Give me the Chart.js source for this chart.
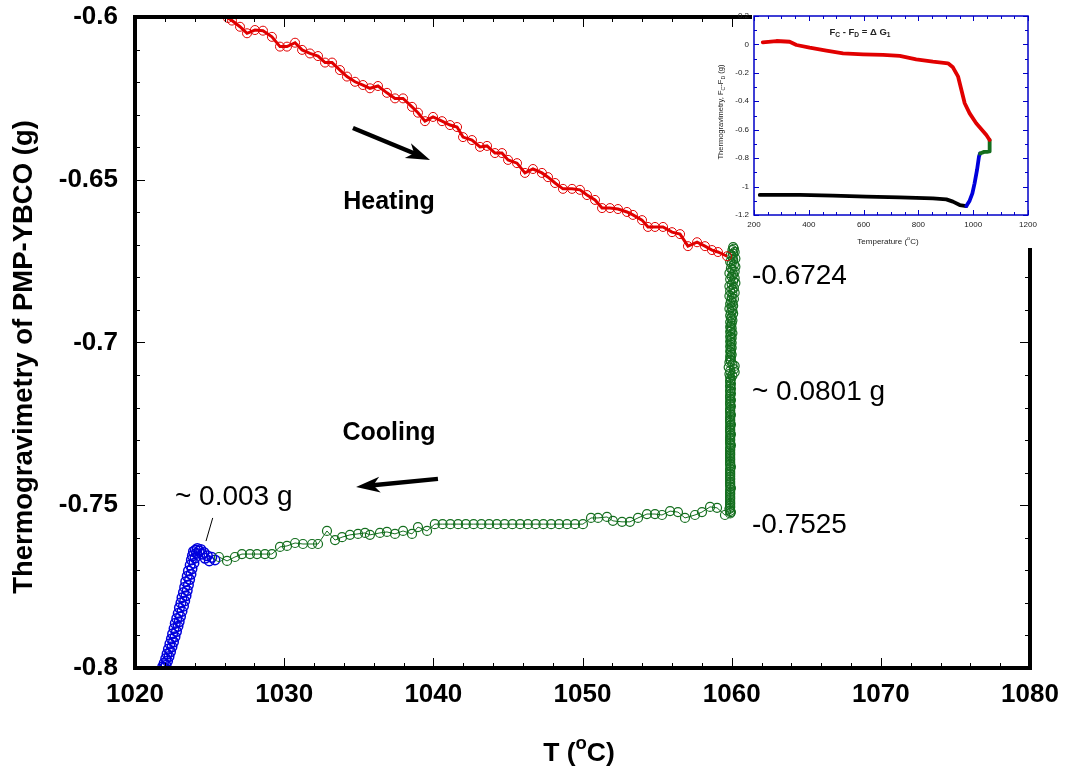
<!DOCTYPE html>
<html>
<head>
<meta charset="utf-8">
<script src="https://cdn.jsdelivr.net/npm/chart.js@4.4.1/dist/chart.umd.min.js"></script>
<style>
  html, body { margin: 0; padding: 0; background: #fff; overflow: hidden; }
  #wrap { position: relative; width: 1067px; height: 774px; }
  #mainChart { position: absolute; left: 0; top: 0; }
  #insetChart { position: absolute; left: 700px; top: 11px; }
</style>
</head>
<body>
<div id="wrap">
  <canvas id="mainChart" width="1067" height="774"></canvas>
  <canvas id="insetChart" width="345" height="237"></canvas>
</div>
<script>
// ---- main plot data (T in degC, weight in g) ----
const heatT = [1026.23, 1026.50, 1027.04, 1027.51, 1028.04, 1028.58, 1029.18, 1029.72, 1030.19, 1030.73,
  1031.20, 1031.73, 1032.27, 1032.74, 1033.21, 1033.74, 1034.21, 1034.75, 1035.28, 1035.75,
  1036.29, 1036.89, 1037.43, 1037.97, 1038.57, 1038.97, 1039.44, 1039.98, 1040.58, 1041.12,
  1041.59, 1041.99, 1042.59, 1043.13, 1043.60, 1044.13, 1044.60, 1045.01, 1045.61, 1046.14,
  1046.68, 1047.28, 1047.69, 1048.16, 1048.69, 1049.30, 1049.83, 1050.30, 1050.84, 1051.31,
  1051.84, 1052.38, 1052.98, 1053.38, 1053.99, 1054.39, 1054.86, 1055.40, 1056.00, 1056.54,
  1057.07, 1057.68, 1058.21, 1058.68, 1059.08, 1059.69];
const heatW = [-0.6003, -0.6011, -0.6030, -0.6050, -0.6040, -0.6042, -0.6061, -0.6091, -0.6091, -0.6079,
  -0.6101, -0.6112, -0.6120, -0.6140, -0.6140, -0.6163, -0.6183, -0.6199, -0.6209, -0.6219,
  -0.6212, -0.6233, -0.6250, -0.6250, -0.6276, -0.6294, -0.6320, -0.6307, -0.6320, -0.6332,
  -0.6338, -0.6369, -0.6378, -0.6399, -0.6396, -0.6418, -0.6418, -0.6439, -0.6449, -0.6479,
  -0.6467, -0.6479, -0.6492, -0.6510, -0.6528, -0.6528, -0.6531, -0.6547, -0.6562, -0.6587,
  -0.6587, -0.6590, -0.6599, -0.6608, -0.6624, -0.6645, -0.6645, -0.6645, -0.6661, -0.6667,
  -0.6704, -0.6692, -0.6704, -0.6716, -0.6722, -0.6735];

// green part 1: isothermal hold at 1060 (weight drops ~0.08 g)
const holdT = [1060.10, 1060.15, 1060.05, 1060.20, 1060.10, 1059.95, 1060.05, 1060.25, 1060.10, 1059.90,
  1060.00, 1060.15, 1060.25, 1059.95, 1060.05, 1060.20, 1059.85, 1060.10, 1060.00, 1060.20,
  1059.90, 1060.10, 1060.25, 1060.00, 1059.85, 1060.15, 1060.05, 1059.90, 1060.20, 1060.05,
  1059.85, 1060.00, 1060.15, 1059.95, 1060.05, 1059.90, 1060.10, 1060.00, 1059.85, 1060.05,
  1059.95, 1060.10, 1059.90, 1060.00, 1059.95, 1060.05, 1059.90, 1060.00, 1059.95, 1059.90,
  1060.00, 1059.95, 1059.90, 1060.05, 1059.95, 1059.90, 1060.00, 1059.95, 1059.90, 1060.00,
  1059.95, 1059.90, 1060.00, 1059.95, 1059.90, 1059.95, 1060.00, 1059.90, 1059.95, 1059.90,
  1059.95, 1059.85, 1060.05, 1060.20, 1059.80, 1060.15, 1059.90, 1060.20, 1059.85, 1060.05,
  1059.90, 1059.95, 1059.90, 1059.90, 1059.95, 1059.90, 1059.90, 1059.95, 1059.90, 1059.90,
  1059.95, 1059.90, 1059.90, 1059.90, 1059.95, 1059.90, 1059.90, 1059.90, 1059.95, 1059.90,
  1059.90, 1059.90, 1059.90, 1059.95, 1059.90, 1059.90, 1059.90, 1059.90, 1059.90, 1059.95,
  1059.90, 1059.90, 1059.90, 1059.90, 1059.90, 1059.95, 1059.90, 1059.90, 1059.90, 1059.90,
  1059.90, 1059.90, 1059.95, 1059.90, 1059.90, 1059.90, 1059.90, 1059.90, 1059.90, 1059.90,
  1059.90, 1059.90, 1059.90, 1059.90, 1059.90, 1059.95, 1059.90, 1059.90, 1059.90, 1059.90,
  1059.90, 1059.90, 1059.90, 1059.90, 1059.90, 1059.90, 1059.90, 1059.90, 1059.95, 1059.90,
  1059.90, 1059.90, 1059.90, 1059.90, 1059.90, 1059.90, 1059.90, 1059.90, 1059.90, 1059.90,
  1059.90, 1059.85, 1059.90, 1059.95, 1059.90];
const holdW = [-0.6707, -0.6712, -0.6716, -0.6722, -0.6727, -0.6731, -0.6737, -0.6742, -0.6746, -0.6752,
  -0.6757, -0.6761, -0.6767, -0.6772, -0.6776, -0.6782, -0.6787, -0.6791, -0.6797, -0.6802,
  -0.6806, -0.6812, -0.6817, -0.6821, -0.6827, -0.6832, -0.6836, -0.6842, -0.6847, -0.6851,
  -0.6857, -0.6862, -0.6866, -0.6872, -0.6877, -0.6881, -0.6887, -0.6892, -0.6896, -0.6902,
  -0.6907, -0.6911, -0.6917, -0.6922, -0.6926, -0.6932, -0.6937, -0.6941, -0.6947, -0.6952,
  -0.6956, -0.6962, -0.6967, -0.6971, -0.6977, -0.6982, -0.6986, -0.6992, -0.6997, -0.7001,
  -0.7007, -0.7012, -0.7016, -0.7022, -0.7027, -0.7031, -0.7037, -0.7042, -0.7046, -0.7052,
  -0.7057, -0.7061, -0.7067, -0.7072, -0.7076, -0.7082, -0.7087, -0.7091, -0.7097, -0.7102,
  -0.7106, -0.7112, -0.7117, -0.7121, -0.7127, -0.7132, -0.7136, -0.7142, -0.7147, -0.7151,
  -0.7157, -0.7162, -0.7166, -0.7172, -0.7177, -0.7181, -0.7187, -0.7192, -0.7196, -0.7202,
  -0.7207, -0.7211, -0.7217, -0.7222, -0.7226, -0.7232, -0.7237, -0.7241, -0.7247, -0.7252,
  -0.7256, -0.7262, -0.7267, -0.7271, -0.7277, -0.7282, -0.7286, -0.7292, -0.7297, -0.7301,
  -0.7307, -0.7312, -0.7316, -0.7322, -0.7327, -0.7331, -0.7337, -0.7342, -0.7346, -0.7352,
  -0.7357, -0.7361, -0.7367, -0.7372, -0.7376, -0.7382, -0.7387, -0.7391, -0.7397, -0.7402,
  -0.7406, -0.7412, -0.7417, -0.7421, -0.7427, -0.7432, -0.7436, -0.7442, -0.7447, -0.7451,
  -0.7457, -0.7462, -0.7466, -0.7472, -0.7477, -0.7481, -0.7487, -0.7492, -0.7496, -0.7502,
  -0.7507, -0.7511, -0.7517, -0.7521, -0.7525];

// green part 2: cooling from 1060 down to ~1025
const coolT = [1059.55, 1059.02, 1058.55, 1058.01, 1057.54, 1056.87, 1056.40, 1055.87, 1055.33, 1054.86,
  1054.32, 1053.72, 1053.18, 1052.65, 1052.04, 1051.64, 1051.04, 1050.57, 1050.03, 1049.50,
  1048.96, 1048.43, 1047.90, 1047.38, 1046.86, 1046.34, 1045.82, 1045.30, 1044.78, 1044.26,
  1043.74, 1043.22, 1042.70, 1042.18, 1041.66, 1041.14, 1040.62, 1040.10, 1039.58, 1038.97,
  1038.57, 1037.97, 1037.43, 1036.89, 1036.42, 1035.75, 1035.42, 1034.95, 1034.41, 1033.88,
  1033.41, 1032.87, 1032.27, 1031.87, 1031.26, 1030.73, 1030.19, 1029.72, 1029.18, 1028.71,
  1028.18, 1027.71, 1027.17, 1026.70, 1026.17, 1025.63];
const coolW = [-0.7530, -0.7508, -0.7505, -0.7521, -0.7530, -0.7539, -0.7521, -0.7518, -0.7530, -0.7527,
  -0.7527, -0.7539, -0.7551, -0.7551, -0.7548, -0.7536, -0.7539, -0.7539, -0.7558, -0.7558,
  -0.7558, -0.7558, -0.7558, -0.7558, -0.7558, -0.7558, -0.7558, -0.7558, -0.7558, -0.7558,
  -0.7558, -0.7558, -0.7558, -0.7558, -0.7558, -0.7558, -0.7558, -0.7558, -0.7579, -0.7567,
  -0.7588, -0.7579, -0.7588, -0.7582, -0.7585, -0.7591, -0.7585, -0.7588, -0.7591, -0.7598,
  -0.7607, -0.7579, -0.7619, -0.7619, -0.7619, -0.7616, -0.7625, -0.7628, -0.7650, -0.7650,
  -0.7650, -0.7650, -0.7650, -0.7659, -0.7671, -0.7659];

// blue: last part of the cooling run
const blueT = [1025.36, 1025.15, 1024.98, 1024.85, 1024.70, 1024.62, 1024.50, 1024.41, 1024.30, 1024.18,
  1024.05, 1024.12, 1023.92, 1023.85, 1024.02, 1023.78, 1023.95, 1023.70, 1023.82, 1023.58,
  1023.75, 1023.50, 1023.66, 1023.40, 1023.58, 1023.33, 1023.50, 1023.25, 1023.42, 1023.15,
  1023.33, 1023.08, 1023.25, 1022.98, 1023.15, 1022.90, 1023.05, 1022.80, 1022.96, 1022.70,
  1022.88, 1022.62, 1022.78, 1022.52, 1022.68, 1022.44, 1022.58, 1022.34, 1022.48, 1022.24,
  1022.38, 1022.15, 1022.28, 1022.06, 1022.18, 1021.96, 1022.08, 1021.86, 1021.95];
const blueW = [-0.7668, -0.7660, -0.7671, -0.7655, -0.7663, -0.7645, -0.7650, -0.7636, -0.7641, -0.7633,
  -0.7638, -0.7648, -0.7642, -0.7655, -0.7662, -0.7668, -0.7678, -0.7684, -0.7695, -0.7702,
  -0.7712, -0.7718, -0.7728, -0.7735, -0.7745, -0.7752, -0.7762, -0.7768, -0.7778, -0.7784,
  -0.7794, -0.7800, -0.7810, -0.7815, -0.7826, -0.7832, -0.7842, -0.7848, -0.7858, -0.7863,
  -0.7872, -0.7879, -0.7888, -0.7895, -0.7904, -0.7911, -0.7920, -0.7926, -0.7935, -0.7942,
  -0.7950, -0.7957, -0.7965, -0.7971, -0.7979, -0.7985, -0.7992, -0.7996, -0.8000];

const xTicks = [1020, 1030, 1040, 1050, 1060, 1070, 1080];
const yTicks = [-0.8, -0.75, -0.7, -0.65, -0.6];

// ---- inset data (whole run) ----
const insetRedT = [232, 282, 330, 355, 403, 464, 525, 598, 671, 732, 792, 853, 908, 926, 945, 957, 969, 987, 1011, 1048, 1060];
const insetRedW = [0.015, 0.024, 0.019, -0.004, -0.023, -0.044, -0.063, -0.070, -0.074, -0.081, -0.105, -0.121, -0.133, -0.161, -0.227, -0.321, -0.414, -0.485, -0.555, -0.637, -0.672];
const insetGreenT = [1060, 1060, 1050, 1040, 1025];
const insetGreenW = [-0.672, -0.7525, -0.756, -0.756, -0.767];
const insetBlueT = [1025, 1021, 1014, 1005, 997, 987, 975];
const insetBlueW = [-0.767, -0.790, -0.883, -0.977, -1.048, -1.099, -1.137];
const insetBlackT = [975, 951, 926, 902, 853, 732, 610, 488, 367, 221];
const insetBlackW = [-1.137, -1.130, -1.106, -1.090, -1.083, -1.076, -1.071, -1.064, -1.059, -1.059];

const insetXTicks = [200, 400, 600, 800, 1000, 1200];
const insetYTicks = [-1.2, -1, -0.8, -0.6, -0.4, -0.2, 0, 0.2];

const FONT = '"Liberation Sans", Arial, Helvetica, sans-serif';

function pts(xs, ys) {
  const n = Math.min(xs.length, ys.length);
  const out = [];
  for (let i = 0; i < n; i++) out.push({x: xs[i], y: ys[i]});
  return out;
}

// text with sub/superscript pieces: [text, 'sub'|'sup'|undefined]
function richText(ctx, parts, x, y, size, weight, align) {
  const f = s => weight + ' ' + s + 'px ' + FONT;
  let w = 0;
  parts.forEach(p => { ctx.font = f(p[1] ? size * 0.7 : size); w += ctx.measureText(p[0]).width; });
  let cx = align === 'center' ? x - w / 2 : x;
  ctx.textAlign = 'left';
  ctx.textBaseline = 'alphabetic';
  parts.forEach(p => {
    const s = p[1] ? size * 0.7 : size;
    ctx.font = f(s);
    const dy = p[1] === 'sub' ? size * 0.25 : (p[1] === 'sup' ? -size * 0.45 : 0);
    ctx.fillText(p[0], cx, y + dy);
    cx += ctx.measureText(p[0]).width;
  });
}

// box around plot + inward ticks on all 4 sides
function drawFrame(chart, o) {
  const {ctx, chartArea: a, scales: {x, y}} = chart;
  ctx.save();
  ctx.strokeStyle = o.color;
  ctx.lineWidth = o.tickWidth;
  ctx.beginPath();
  for (let v = x.min; v <= x.max + 1e-9; v += o.xMinor) {
    const px = Math.round(x.getPixelForValue(v)) + 0.5;
    const major = Math.abs((v - x.min) / o.xMajor - Math.round((v - x.min) / o.xMajor)) < 1e-6;
    const len = major ? o.major : o.minor;
    ctx.moveTo(px, a.bottom); ctx.lineTo(px, a.bottom - len);
    ctx.moveTo(px, a.top); ctx.lineTo(px, a.top + len);
  }
  for (let v = y.min; v <= y.max + 1e-9; v += o.yMinor) {
    const py = Math.round(y.getPixelForValue(v)) + 0.5;
    const major = Math.abs((v - y.min) / o.yMajor - Math.round((v - y.min) / o.yMajor)) < 1e-6;
    const len = major ? o.major : o.minor;
    ctx.moveTo(a.left, py); ctx.lineTo(a.left + len, py);
    ctx.moveTo(a.right, py); ctx.lineTo(a.right - len, py);
  }
  ctx.stroke();
  ctx.lineWidth = o.lineWidth;
  ctx.strokeRect(a.left, a.top, a.right - a.left, a.bottom - a.top);
  ctx.restore();
}

function arrow(ctx, x1, y1, x2, y2) {
  const ang = Math.atan2(y2 - y1, x2 - x1);
  const L = 24, W = 8;
  ctx.lineWidth = 4.5;
  ctx.lineCap = 'butt';
  ctx.beginPath();
  ctx.moveTo(x1, y1);
  ctx.lineTo(x2 - L * 0.7 * Math.cos(ang), y2 - L * 0.7 * Math.sin(ang));
  ctx.stroke();
  ctx.save();
  ctx.translate(x2, y2);
  ctx.rotate(ang);
  ctx.beginPath();
  ctx.moveTo(0, 0);
  ctx.lineTo(-L, -W);
  ctx.lineTo(-L * 0.72, 0);
  ctx.lineTo(-L, W);
  ctx.closePath();
  ctx.fill();
  ctx.restore();
}

// annotations in data coordinates
const notes = [
  {text: 'Heating', x: 1037.03, y: -0.6568, bold: true, size: 25, align: 'center'},
  {text: 'Cooling', x: 1037.03, y: -0.7278, bold: true, size: 25, align: 'center'},
  {text: '-0.6724', x: 1061.36, y: -0.6796, size: 28, align: 'left'},
  {text: '~ 0.0801 g', x: 1061.36, y: -0.7152, size: 28, align: 'left'},
  {text: '-0.7525', x: 1061.36, y: -0.7561, size: 28, align: 'left'},
  {text: '~ 0.003 g', x: 1022.68, y: -0.7475, size: 28, align: 'left'}
];
const arrows = [
  [1034.61, -0.6341, 1039.78, -0.6439],
  [1040.31, -0.7419, 1034.82, -0.7444]
];
const leader = [1025.21, -0.7539, 1024.76, -0.7610];

const mainDecor = {
  id: 'mainDecor',
  afterDatasetsDraw(chart) {
    const {ctx, scales: {x, y}} = chart;
    drawFrame(chart, {color: '#000', lineWidth: 4, tickWidth: 1, major: 10, minor: 5,
      xMinor: 2, xMajor: 10, yMinor: 0.01, yMajor: 0.05});
    ctx.save();
    ctx.fillStyle = '#000';
    ctx.strokeStyle = '#000';
    notes.forEach(n => {
      ctx.font = (n.bold ? 'bold ' : '') + n.size + 'px ' + FONT;
      ctx.textAlign = n.align;
      ctx.textBaseline = 'middle';
      ctx.fillText(n.text, x.getPixelForValue(n.x), y.getPixelForValue(n.y));
    });
    arrows.forEach(a => arrow(ctx, x.getPixelForValue(a[0]), y.getPixelForValue(a[1]),
      x.getPixelForValue(a[2]), y.getPixelForValue(a[3])));
    ctx.lineWidth = 1;
    ctx.beginPath();
    ctx.moveTo(x.getPixelForValue(leader[0]), y.getPixelForValue(leader[1]));
    ctx.lineTo(x.getPixelForValue(leader[2]), y.getPixelForValue(leader[3]));
    ctx.stroke();
    // axis titles
    richText(ctx, [['T ('], ['o', 'sup'], ['C)']], 579, 761, 26.5, 'bold', 'center');
    ctx.translate(32, 357);
    ctx.rotate(-Math.PI / 2);
    richText(ctx, [['Thermogravimetry of PMP-YBCO (g)']], 0, 0, 27.5, 'bold', 'center');
    ctx.restore();
  }
};

const bigFont = {family: FONT, size: 26, weight: 'bold'};
const green = 'rgb(20,110,30)';

new Chart(document.getElementById('mainChart'), {
  type: 'scatter',
  data: {
    datasets: [
      {
        label: 'heating', data: pts(heatT, heatW), showLine: true,
        borderColor: 'rgb(225,0,0)', borderWidth: 3,
        pointRadius: 4.5, pointBorderWidth: 1, pointBorderColor: 'rgb(225,0,0)',
        pointBackgroundColor: 'rgba(0,0,0,0)'
      },
      {
        label: 'hold', data: pts(holdT, holdW).concat(pts(coolT, coolW)), showLine: true,
        borderColor: green, borderWidth: 1,
        pointRadius: 4.5, pointBorderWidth: 1.2, pointBorderColor: green,
        pointBackgroundColor: 'rgba(0,0,0,0)'
      },
      {
        label: 'cooling2', data: pts(blueT, blueW), showLine: true,
        borderColor: 'rgb(0,0,220)', borderWidth: 1,
        pointRadius: 4.8, pointBorderWidth: 1.5, pointBorderColor: 'rgb(0,0,220)',
        pointBackgroundColor: 'rgba(0,0,0,0)'
      }
    ]
  },
  options: {
    responsive: false,
    animation: false,
    events: [],
    layout: {padding: {top: 17, right: 37, left: 0, bottom: 0}},
    plugins: {legend: {display: false}, tooltip: {enabled: false}},
    scales: {
      x: {
        type: 'linear', min: 1020, max: 1080,
        afterBuildTicks: s => { s.ticks = xTicks.map(v => ({value: v})); },
        afterFit: s => { s.height = 106; s.paddingLeft = 0; s.paddingRight = 0; },
        grid: {display: false, drawTicks: false},
        border: {display: false},
        ticks: {font: bigFont, color: '#000', padding: 11, maxRotation: 0, callback: v => String(v)}
      },
      y: {
        type: 'linear', min: -0.8, max: -0.6,
        afterBuildTicks: s => { s.ticks = yTicks.map(v => ({value: v})); },
        afterFit: s => { s.width = 135; s.paddingTop = 0; s.paddingBottom = 0; },
        grid: {display: false, drawTicks: false},
        border: {display: false},
        ticks: {font: bigFont, color: '#000', padding: 17, callback: v => String(Number(v.toFixed(2)))}
      }
    }
  },
  plugins: [mainDecor]
});

// ---- inset ----
const insetDecor = {
  id: 'insetDecor',
  beforeDraw(chart) {
    const {ctx, chartArea: a, width, height} = chart;
    ctx.save();
    ctx.fillStyle = '#fff';
    ctx.fillRect(a.left - 2, 0, width - a.left + 2, height);
    ctx.restore();
  },
  afterDatasetsDraw(chart) {
    const {ctx} = chart;
    drawFrame(chart, {color: 'rgb(0,0,200)', lineWidth: 1.5, tickWidth: 1, major: 5, minor: 3,
      xMinor: 50, xMajor: 200, yMinor: 0.1, yMajor: 0.2});
    ctx.save();
    ctx.fillStyle = '#222';
    richText(ctx, [['F'], ['C', 'sub'], [' - F'], ['D', 'sub'], [' = \u0394 G'], ['1', 'sub']], 160, 24, 9.5, 'bold', 'center');
    richText(ctx, [['Temperature ('], ['o', 'sup'], ['C)']], 188, 233, 8, 'normal', 'center');
    ctx.translate(23, 101);
    ctx.rotate(-Math.PI / 2);
    richText(ctx, [['Thermogravimetry, F'], ['C', 'sub'], ['-F'], ['D', 'sub'], [' (g)']], 0, 0, 7.5, 'normal', 'center');
    ctx.restore();
  }
};

const smallFont = {family: FONT, size: 8};
const insetLine = (d, c) => ({data: d, showLine: true, borderColor: c, borderWidth: 3.8, pointRadius: 0, borderJoinStyle: 'round', borderCapStyle: 'round'});

new Chart(document.getElementById('insetChart'), {
  type: 'scatter',
  data: {
    datasets: [
      insetLine(pts(insetRedT, insetRedW), 'rgb(225,0,0)'),
      insetLine(pts(insetGreenT, insetGreenW), green),
      insetLine(pts(insetBlueT, insetBlueW), 'rgb(0,0,220)'),
      insetLine(pts(insetBlackT, insetBlackW), '#000')
    ]
  },
  options: {
    responsive: false,
    animation: false,
    events: [],
    layout: {padding: {top: 5, right: 17, left: 0, bottom: 0}},
    plugins: {legend: {display: false}, tooltip: {enabled: false}},
    scales: {
      x: {
        type: 'linear', min: 200, max: 1200,
        afterBuildTicks: s => { s.ticks = insetXTicks.map(v => ({value: v})); },
        afterFit: s => { s.height = 33; s.paddingLeft = 0; s.paddingRight = 0; },
        grid: {display: false, drawTicks: false},
        border: {display: false},
        ticks: {font: smallFont, color: '#222', padding: 5, maxRotation: 0, callback: v => String(v)}
      },
      y: {
        type: 'linear', min: -1.2, max: 0.2,
        afterBuildTicks: s => { s.ticks = insetYTicks.map(v => ({value: v})); },
        afterFit: s => { s.width = 54; s.paddingTop = 0; s.paddingBottom = 0; },
        grid: {display: false, drawTicks: false},
        border: {display: false},
        ticks: {font: smallFont, color: '#222', padding: 5, callback: v => String(Number(v.toFixed(1)))}
      }
    }
  },
  plugins: [insetDecor]
});
</script>
</body>
</html>
